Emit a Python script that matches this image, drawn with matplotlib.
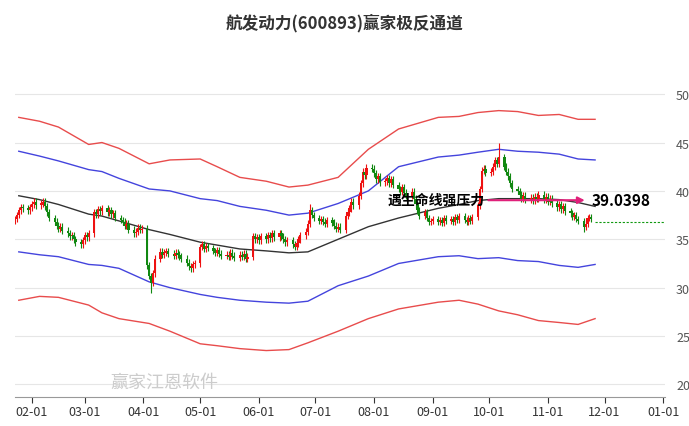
import numpy as np
import pandas as pd
import matplotlib
matplotlib.use("Agg")
import matplotlib.pyplot as plt
import matplotlib.dates as mdates

plt.rcParams['font.family'] = ['Noto Sans CJK SC', 'DejaVu Sans']

title = "航发动力(600893)赢家极反通道"
closes = [
    37.1,37.5,38.0,38.3,38.2, 38.0,38.3,38.6,38.9,38.5, 38.7,38.9,38.4,37.8,37.2,
    36.8,36.4,36.1,36.3,35.9, 35.6,35.3,35.4,35.0,34.7, 34.5,34.9,35.4,35.2,35.6,
    37.8,37.6,38.1,37.9,38.2, 37.8,38.0,37.6,37.7,37.2, 37.0,36.8,36.4,36.6,36.0,
    35.6,35.8,36.2,36.0,36.1, 32.3,31.2,30.5,31.5,33.0, 33.7,33.4,33.6,33.8,33.5,
    33.3,33.6,33.4,33.2,33.0, 32.6,32.2,32.0,32.4,32.5, 34.2,34.5,34.0,34.3,34.1,
    33.8,33.6,33.9,33.5,33.3, 33.4,33.2,33.6,33.3,33.1, 33.4,33.2,33.5,33.0,33.2,
    35.3,35.0,35.2,34.9,35.3, 35.0,35.4,35.1,35.6,35.2, 35.6,35.3,35.0,34.7,34.9,
    34.5,34.2,34.6,35.0,35.4, 35.8,36.6,38.0,37.5,37.2, 36.9,37.1,36.8,36.6,37.0,
    36.7,36.4,36.1,36.3,36.0, 37.4,37.8,38.2,38.9,38.5, 39.5,40.8,42.0,41.6,42.4,
    42.3,41.8,41.2,41.5,40.9, 41.0,41.3,40.8,41.2,40.6, 40.2,39.9,40.4,39.8,39.5,
    39.9,39.2,38.6,38.0,37.4, 37.8,37.2,36.8,36.9,37.1, 36.8,37.0,36.7,37.2,36.9,
    37.1,36.8,37.3,37.0,37.4, 37.0,36.8,37.2,36.9,37.3, 38.5,40.2,42.1,42.3,41.9,
    42.0,42.5,43.2,42.8,43.5, 42.5,42.0,41.5,40.8,40.2, 40.0,39.6,39.2,39.5,39.1,
    39.3,39.0,39.4,39.2,39.6, 39.1,39.4,38.9,39.2,38.7, 38.3,38.6,38.1,38.4,37.9,
    37.7,37.3,37.5,37.1,36.9, 36.3,36.6,37.2,37.3,37.1,
]
first_open = 36.9
wick_lows = {"2023-04-05": 29.4, "2023-11-20": 35.8}
wick_highs = {"2023-10-06": 45.0, "2023-06-28": 38.6}

band_dates = ["2023-01-25","2023-02-05","2023-02-15","2023-03-03","2023-03-10","2023-03-19",
              "2023-04-04","2023-04-15","2023-05-01","2023-05-10","2023-05-22","2023-06-05",
              "2023-06-17","2023-06-27","2023-07-13","2023-07-29","2023-08-14","2023-09-04",
              "2023-09-15","2023-09-25","2023-10-06","2023-10-16","2023-10-27","2023-11-07",
              "2023-11-17","2023-11-26"]
red_upper  = [47.6,47.2,46.6,44.8,45.0,44.4,42.8,43.2,43.3,42.5,41.4,41.0,40.4,40.6,41.4,44.3,
              46.4,47.6,47.7,48.1,48.3,48.2,47.8,47.9,47.4,47.4]
blue_upper = [44.1,43.6,43.1,42.2,42.0,41.3,40.2,40.0,39.2,39.0,38.4,38.0,37.5,37.7,38.7,40.0,
              42.5,43.5,43.7,44.0,44.3,44.1,44.0,43.8,43.3,43.2]
middle     = [39.5,39.1,38.6,37.6,37.4,36.9,36.0,35.5,34.7,34.4,34.0,33.8,33.6,33.7,35.0,36.3,
              37.2,38.2,38.6,39.0,39.2,39.2,39.2,39.1,38.8,38.4]
blue_lower = [33.7,33.4,33.2,32.4,32.3,32.0,30.6,30.0,29.3,29.0,28.7,28.5,28.4,28.6,30.2,31.2,
              32.5,33.2,33.3,33.0,33.1,32.8,32.7,32.3,32.1,32.4]
red_lower  = [28.7,29.1,29.0,28.2,27.4,26.8,26.3,25.5,24.2,24.0,23.7,23.5,23.6,24.3,25.5,26.8,
              27.8,28.5,28.7,28.3,27.6,27.2,26.6,26.4,26.2,26.8]

tick_labels = ["02-01","03-01","04-01","05-01","06-01","07-01","08-01","09-01","10-01","11-01","12-01","01-01"]
tick_dates = ["2023-02-01","2023-03-01","2023-04-01","2023-05-01","2023-06-01","2023-07-01",
              "2023-08-01","2023-09-01","2023-10-01","2023-11-01","2023-12-01","2024-01-01"]
y_ticks = [20, 25, 30, 35, 40, 45, 50]
annot_text = "遇生命线强压力"
annot_value = 39.0398
last_level = 36.8

dates = pd.bdate_range("2023-01-23", periods=len(closes))
x = mdates.date2num(dates)
closes = np.array(closes)
opens = np.concatenate([[first_open], closes[:-1]])

fig = plt.figure(figsize=(6.89, 4.27), dpi=100)
ax = fig.add_axes([15/689, 1-398/427, 650/689, 328/427])
ax.set_ylim(18.7, 52.6)
ax.set_xlim(mdates.date2num(pd.Timestamp("2023-01-23")), mdates.date2num(pd.Timestamp("2024-01-02")))

for yv in y_ticks:
    ax.axhline(yv, color="#e6e6e6", lw=0.8, zorder=0)

for i in range(len(closes)):
    o, c = opens[i], closes[i]
    key = dates[i].strftime("%Y-%m-%d")
    hi = wick_highs.get(key, max(o, c) + 0.35)
    lo = wick_lows.get(key, min(o, c) - 0.35)
    col = "#ee1111" if c >= o else "#118811"
    ax.vlines(x[i], lo, hi, color=col, lw=0.8, zorder=3)
    h = max(abs(c - o), 0.08)
    ax.bar(x[i], h, bottom=min(o, c), width=1.2, color=col, zorder=3)

bx = mdates.date2num(pd.to_datetime(band_dates))
ax.plot(bx, red_upper, color="#e84c4c", lw=1.0, zorder=2)
ax.plot(bx, blue_upper, color="#4444dd", lw=1.0, zorder=2)
ax.plot(bx, middle, color="#333333", lw=1.0, zorder=2)
ax.plot(bx, blue_lower, color="#4444dd", lw=1.0, zorder=2)
ax.plot(bx, red_lower, color="#e84c4c", lw=1.0, zorder=2)

ax.text(mdates.date2num(pd.Timestamp("2023-08-08")), annot_value, annot_text, fontsize=10,
        fontweight="bold", va="center", ha="left", zorder=5)
ax.annotate("", xy=(mdates.date2num(pd.Timestamp("2023-11-22")), annot_value),
            xytext=(mdates.date2num(pd.Timestamp("2023-09-29")), annot_value),
            arrowprops=dict(arrowstyle="-|>", color="#e0207a", lw=1.5), zorder=5)
ax.text(mdates.date2num(pd.Timestamp("2023-11-24")), annot_value, f"{annot_value:.4f}", fontsize=11,
        fontweight="bold", va="center", ha="left", zorder=5)
ax.plot([x[-1] + 2, ax.get_xlim()[1]], [last_level, last_level], color="#119911", lw=0.8,
        ls=(0, (2, 1.5)), zorder=2)

ax.text(0.16, 1-383/427, "赢家江恩软件", transform=fig.transFigure, fontsize=13, color="#cccccc",
        ha="left", va="center", zorder=1)

ax.set_yticks(y_ticks)
ax.yaxis.tick_right()
ax.tick_params(axis="y", length=0, labelsize=9, colors="#555555", pad=8)
ax.set_xticks(mdates.date2num(pd.to_datetime(tick_dates)))
ax.set_xticklabels(tick_labels)
ax.tick_params(axis="x", length=4, labelsize=9, colors="#333333", pad=2)
for s in ["top", "right", "left"]:
    ax.spines[s].set_visible(False)
ax.spines["bottom"].set_color("#999999")

fig.suptitle(title, y=0.968, fontsize=12, fontweight="bold", color="#333333")
fig.savefig("out.png", dpi=100)
